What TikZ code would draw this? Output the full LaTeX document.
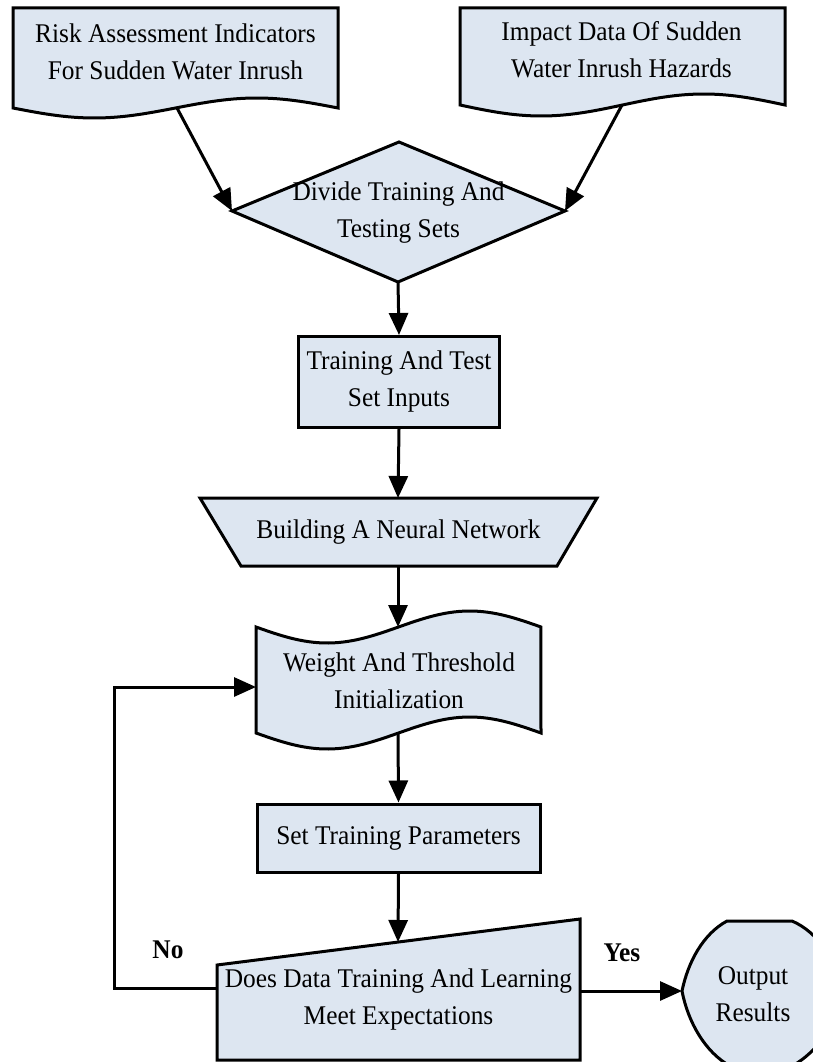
\documentclass[tikz,border=0pt]{standalone}
\usepackage{fontspec}
\setmainfont{Liberation Serif}[FakeStretch=0.94]
\usetikzlibrary{arrows.meta}
\definecolor{boxfill}{RGB}{221,230,241}
\begin{document}
\begin{tikzpicture}[x=1pt,y=-1pt,
  shp/.style={draw=black, line width=3pt, fill=boxfill, line join=miter},
  txt/.style={align=center, inner sep=0pt, font=\fontsize{27}{37}\selectfont},
  lbl/.style={inner sep=0pt, font=\fontsize{27}{30}\selectfont\bfseries},
  conn/.style={draw=black, line width=3pt, -{Triangle[length=22pt,width=19pt]}},
  boxnode/.style={shp, txt}]
\clip (0,0) rectangle (813,1062);
\fill[white] (0,0) rectangle (813,1062);

% document 1
\path[shp] (13,108) -- (13,8) -- (338,8) -- (338,108) -- plot[domain=1:0,samples=60] ({13+325*\x},{108+10*sin(360*\x)}) -- cycle;
\coordinate (d1b) at (177,108);
\node[txt] (d1t) at (175.5,52) {Risk Assessment Indicators\\For Sudden Water Inrush};

% document 2
\path[shp] (460,105) -- (460,8) -- (785,8) -- (785,105) -- plot[domain=1:0,samples=60] ({460+325*\x},{105+11*sin(360*\x)}) -- cycle;
\coordinate (d2b) at (622,105);
\node[txt] (d2t) at (621.5,50) {Impact Data Of Sudden\\Water Inrush Hazards};

% diamond
\path[shp] (232,211) -- (399,142) -- (565,211) -- (398,282) -- cycle;
\coordinate (dl) at (232,211);
\coordinate (dr) at (565,211);
\coordinate (db) at (398,282);
\node[txt] (dt) at (398.5,213) {Divide Training And\\Testing Sets};

% training and test set inputs
\node[boxnode, minimum width=201pt, minimum height=91pt] (b1) at (399,382) {Training And Test\\Set Inputs};

% trapezoid
\path[shp] (200,498) -- (597,498) -- (557,566) -- (241,566) -- cycle;
\coordinate (tt) at (398,498);
\coordinate (tb) at (398,566);
\node[txt] (trt) at (398.5,532) {Building A Neural Network};

% weight shape
\path[shp] (256,627) -- plot[domain=0:1,samples=60] ({256+285*\x},{627+16*sin(360*\x)}) -- (541,733) -- plot[domain=1:0,samples=60] ({256+285*\x},{733+16*sin(360*\x)}) -- cycle;
\coordinate (wt) at (398,627);
\coordinate (wb) at (398,733);
\coordinate (wl) at (256,687);
\node[txt] (wtx) at (399,681) {Weight And Threshold\\Initialization};

% set training parameters
\node[boxnode, minimum width=283pt, minimum height=68pt] (b2) at (398.5,838) {Set Training Parameters};

% decision
\path[shp] (217,965) -- (580,919) -- (580,1060) -- (217,1060) -- cycle;
\coordinate (dct) at (398,942);
\coordinate (dcl) at (217,988);
\coordinate (dcr) at (580,991);
\node[txt] (dctx) at (398.5,999) {Does Data Training And Learning\\Meet Expectations};

% output
\path[shp] (682,991) .. controls (688,962) and (703,934) .. (727,921) -- (792,921) .. controls (818,932) and (838,962) .. (840,992) .. controls (838,1022) and (818,1052) .. (792,1066) -- (730,1066) .. controls (705,1052) and (688,1022) .. (682,991) -- cycle;
\coordinate (ol) at (682,991);
\node[txt] (otx) at (753,994) {Output\\Results};

% connectors
\draw[conn] (d1b) -- (dl);
\draw[conn] (d2b) -- (dr);
\draw[conn] (db) -- (b1.north);
\draw[conn] (b1.south) -- (tt);
\draw[conn] (tb) -- (wt);
\draw[conn] (wb) -- (b2.north);
\draw[conn] (b2.south) -- (dct);
\draw[conn] (dcl) -- ++(-103,0) |- (wl);
\draw[conn] (dcr) -- (ol);

\node[lbl] (no) at (168,950) {No};
\node[lbl] (yes) at (622,953) {Yes};
\end{tikzpicture}
\end{document}
